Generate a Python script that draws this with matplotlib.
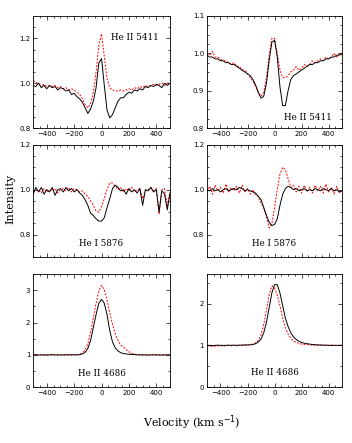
import matplotlib
matplotlib.use('Agg')
import matplotlib.pyplot as plt
from matplotlib.ticker import MultipleLocator

# velocity grid (km/s)
vel = [-500, -480, -460, -440, -420, -400, -380, -360, -340, -320,
       -300, -280, -260, -240, -220, -200, -180, -160, -140, -120,
       -100, -80, -60, -40, -20, 0, 20, 40, 60, 80,
       100, 120, 140, 160, 180, 200, 220, 240, 260, 280,
       300, 320, 340, 360, 380, 400, 420, 440, 460, 480, 500]

# He II 5411, left
b1 = [0.99, 0.985, 1.0, 0.98, 0.99, 0.975, 0.99, 0.98, 0.985, 0.97,
      0.98, 0.975, 0.965, 0.97, 0.95, 0.955, 0.94, 0.93, 0.915, 0.89,
      0.865, 0.885, 0.92, 0.98, 1.09, 1.11, 0.99, 0.88, 0.845, 0.86,
      0.89, 0.92, 0.935, 0.935, 0.95, 0.96, 0.955, 0.97, 0.965, 0.975,
      0.97, 0.985, 0.98, 0.99, 0.985, 0.995, 0.99, 0.98, 1.0, 0.99, 1.0]
r1 = [1.01, 1.005, 0.995, 0.99, 0.995, 0.985, 0.99, 0.985, 0.99, 0.98,
      0.985, 0.975, 0.98, 0.97, 0.975, 0.97, 0.96, 0.95, 0.93, 0.905,
      0.89, 0.91, 0.96, 1.05, 1.17, 1.22, 1.12, 1.02, 0.98, 0.97,
      0.965, 0.965, 0.97, 0.965, 0.97, 0.975, 0.97, 0.98, 0.975, 0.985,
      0.98, 0.99, 0.985, 0.99, 0.995, 0.99, 0.995, 1.0, 0.99, 1.0, 1.0]

# He II 5411, right
b2 = [0.995, 0.99, 0.99, 0.985, 0.985, 0.98, 0.98, 0.975, 0.975, 0.97,
      0.97, 0.965, 0.96, 0.955, 0.95, 0.945, 0.94, 0.93, 0.915, 0.895,
      0.88, 0.885, 0.92, 0.98, 1.03, 1.035, 0.99, 0.91, 0.86, 0.86,
      0.9, 0.93, 0.94, 0.945, 0.95, 0.955, 0.96, 0.965, 0.97, 0.97,
      0.975, 0.975, 0.98, 0.98, 0.985, 0.985, 0.99, 0.99, 0.995, 0.995, 1.0]
r2 = [1.0, 0.995, 1.005, 0.99, 0.99, 0.985, 0.98, 0.98, 0.975, 0.97,
      0.975, 0.965, 0.965, 0.955, 0.955, 0.945, 0.935, 0.925, 0.91, 0.895,
      0.885, 0.895, 0.935, 0.995, 1.04, 1.04, 1.0, 0.955, 0.935, 0.935,
      0.94, 0.95, 0.955, 0.965, 0.955, 0.96, 0.97, 0.965, 0.97, 0.98,
      0.975, 0.98, 0.985, 0.98, 0.99, 0.985, 0.99, 1.0, 0.99, 1.0, 0.995]

# He I 5876, left
b3 = [0.98, 1.01, 0.99, 1.01, 0.98, 1.0, 0.99, 1.01, 0.975, 1.0,
      1.005, 0.99, 1.01, 0.995, 1.005, 0.99, 1.0, 0.985, 0.975, 0.955,
      0.93, 0.895, 0.885, 0.87, 0.86, 0.86, 0.875, 0.92, 0.96, 1.005,
      1.02, 1.01, 0.995, 1.0, 0.98, 1.005, 0.99, 1.0, 0.985, 1.005,
      0.93, 1.0, 0.995, 1.01, 0.99, 1.0, 0.90, 0.995, 0.98, 0.91, 0.985]
r3 = [0.99, 0.995, 1.0, 0.985, 1.005, 0.99, 1.0, 0.995, 1.005, 0.985,
      1.0, 1.005, 0.995, 1.01, 0.99, 1.005, 1.0, 0.99, 0.995, 0.98,
      0.97, 0.95, 0.93, 0.905, 0.9, 0.925, 0.96, 1.0, 1.03, 1.03,
      1.015, 1.0, 1.01, 0.99, 1.005, 0.995, 1.01, 0.99, 1.0, 1.005,
      0.96, 0.995, 1.0, 1.01, 0.995, 1.005, 0.89, 1.0, 1.005, 0.93, 0.99]

# He I 5876, right
b4 = [1.0, 0.995, 1.005, 0.995, 1.0, 0.99, 1.0, 1.005, 0.995, 1.0,
      1.005, 1.0, 1.01, 1.005, 0.995, 1.0, 0.995, 0.99, 0.985, 0.97,
      0.955, 0.92, 0.885, 0.855, 0.84, 0.845, 0.87, 0.93, 0.98, 1.005,
      1.015, 1.01, 1.0, 1.005, 0.995, 1.0, 1.005, 0.995, 1.0, 0.995,
      1.005, 1.0, 0.995, 1.005, 1.0, 0.995, 1.005, 0.995, 1.0, 0.99, 0.995]
r4 = [0.99, 1.015, 0.98, 1.02, 0.995, 1.01, 0.985, 1.025, 0.99, 1.01,
      0.995, 1.015, 0.985, 1.02, 0.99, 1.005, 0.98, 1.0, 0.975, 0.97,
      0.94, 0.92, 0.88, 0.83, 0.85, 0.92, 1.0, 1.07, 1.1, 1.09,
      1.05, 1.01, 1.02, 0.99, 1.015, 0.985, 1.02, 0.99, 1.01, 0.985,
      1.02, 0.995, 1.015, 0.985, 1.025, 0.99, 1.01, 0.98, 1.015, 0.985, 1.0]

# He II 4686, left
b5 = [1.0, 1.005, 0.995, 1.0, 1.0, 0.995, 1.0, 1.005, 1.0, 0.995,
      1.0, 1.0, 1.005, 1.0, 1.0, 1.005, 1.0, 1.01, 1.03, 1.08,
      1.2, 1.45, 1.85, 2.25, 2.6, 2.72, 2.6, 2.25, 1.75, 1.4,
      1.22, 1.12, 1.07, 1.04, 1.03, 1.02, 1.015, 1.01, 1.0, 1.005,
      1.0, 1.0, 0.995, 1.0, 1.005, 1.0, 1.0, 0.995, 1.0, 1.0, 1.0]
r5 = [1.01, 1.0, 1.005, 1.0, 0.995, 1.0, 1.005, 1.0, 1.0, 1.005,
      1.0, 0.995, 1.0, 1.005, 1.0, 1.0, 1.0, 1.02, 1.06, 1.15,
      1.35, 1.7, 2.15, 2.6, 2.98, 3.15, 3.02, 2.7, 2.3, 1.95,
      1.65, 1.45, 1.3, 1.25, 1.16, 1.1, 1.05, 1.02, 1.01, 1.005,
      1.0, 0.995, 1.0, 1.005, 1.0, 0.995, 1.0, 1.005, 1.0, 0.995, 1.0]

# He II 4686, right
b6 = [1.0, 1.0, 0.995, 1.0, 1.005, 1.0, 1.0, 1.0, 1.005, 1.0,
      1.005, 1.0, 1.005, 1.005, 1.01, 1.01, 1.01, 1.02, 1.04, 1.08,
      1.15, 1.3, 1.55, 1.9, 2.25, 2.45, 2.45, 2.25, 1.95, 1.65,
      1.45, 1.3, 1.2, 1.14, 1.1, 1.07, 1.05, 1.04, 1.03, 1.02,
      1.015, 1.01, 1.01, 1.005, 1.005, 1.0, 1.0, 1.0, 1.0, 1.0, 1.0]
r6 = [0.99, 0.98, 0.975, 0.98, 0.985, 0.99, 0.985, 0.99, 0.995, 0.99,
      1.0, 0.995, 1.0, 1.005, 1.0, 1.01, 1.02, 1.03, 1.06, 1.12,
      1.25, 1.5, 1.85, 2.2, 2.42, 2.38, 2.2, 1.95, 1.65, 1.42,
      1.27, 1.17, 1.1, 1.07, 1.05, 1.03, 1.02, 1.015, 1.01, 1.005,
      1.0, 1.005, 1.0, 0.995, 1.0, 1.0, 1.005, 1.0, 0.995, 1.0, 1.0]

labels = ['He II 5411', 'He II 5411', 'He I 5876', 'He I 5876', 'He II 4686', 'He II 4686']
ylims = [(0.8, 1.3), (0.8, 1.1), (0.7, 1.2), (0.7, 1.2), (0, 3.5), (0, 2.7)]
lab_pos = [(0.74, 0.81), (0.75, 0.09), (0.5, 0.12), (0.5, 0.12), (0.5, 0.12), (0.5, 0.13)]
blacks = [b1, b2, b3, b4, b5, b6]
reds = [r1, r2, r3, r4, r5, r6]

fig = plt.figure(figsize=(3.52, 4.43), dpi=100)
xs = [0.094, 0.588]
ws = [0.389, 0.384]
ys = [0.711, 0.420, 0.126]
hs = [0.253, 0.253, 0.255]

for k in range(6):
    row, col = k // 2, k % 2
    ax = fig.add_axes([xs[col], ys[row], ws[col], hs[row]])
    ax.plot(vel, reds[k], color='red', lw=0.7, ls=(0, (2, 1.5)))
    ax.plot(vel, blacks[k], color='black', lw=0.7)
    ax.set_xlim(-500, 500)
    ax.set_ylim(*ylims[k])
    ax.xaxis.set_major_locator(MultipleLocator(200))
    ax.xaxis.set_minor_locator(MultipleLocator(50))
    if row < 2:
        ax.yaxis.set_major_locator(MultipleLocator(0.2 if k != 1 else 0.1))
        ax.yaxis.set_minor_locator(MultipleLocator(0.05 if k != 1 else 0.025))
    else:
        ax.yaxis.set_major_locator(MultipleLocator(1))
        ax.yaxis.set_minor_locator(MultipleLocator(0.5))
    ax.tick_params(which='both', direction='in', top=True, right=True, labelsize=5, pad=2)
    ax.tick_params(which='major', length=3, width=0.5)
    ax.tick_params(which='minor', length=1.5, width=0.5)
    if row == 1:
        ax.tick_params(labelbottom=False)
    for s in ax.spines.values():
        s.set_linewidth(0.6)
    ax.text(lab_pos[k][0], lab_pos[k][1], labels[k], transform=ax.transAxes,
            ha='center', va='center', fontsize=6.3, family='DejaVu Serif')

fig.text(0.03, 0.55, 'Intensity', rotation=90, ha='center', va='center',
         fontsize=8, family='DejaVu Serif')
fig.text(0.545, 0.045, r'Velocity (km s$^{-1}$)', ha='center', va='center',
         fontsize=8, family='DejaVu Serif')

fig.savefig('out.png', dpi=100)
